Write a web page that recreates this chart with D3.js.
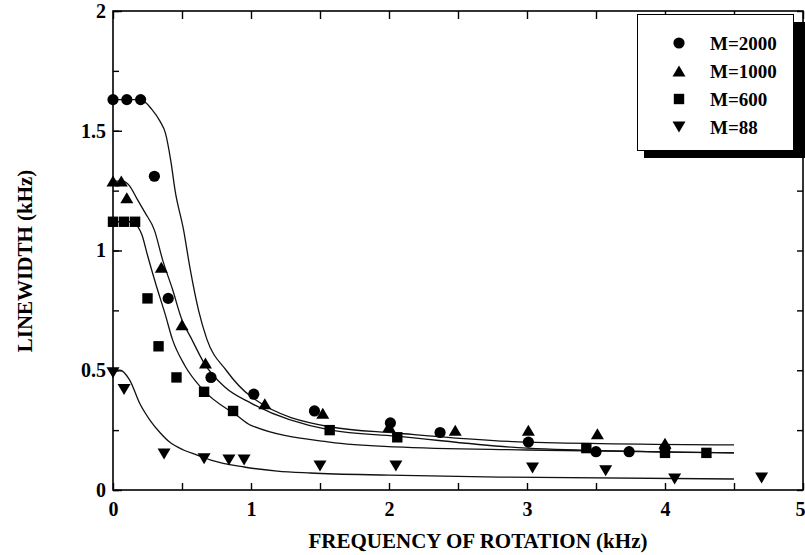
<!DOCTYPE html>
<html>
<head>
<meta charset="utf-8">
<script src="https://cdn.jsdelivr.net/npm/d3@7"></script>
<style>
    body { margin: 0; background: #fff; }
    svg text { font-family: "Liberation Serif", "Times New Roman", Times, "DejaVu Serif", serif; font-weight: bold; }
</style>
</head>
<body>
<svg id="chart" width="805" height="555"></svg>
<script>
/**
 * Linewidth vs frequency of rotation, four polymer masses.
 */
const seriesNames = ['M=2000', 'M=1000', 'M=600', 'M=88'];
const seriesShapes = ['circle', 'up', 'square', 'down'];

// Measured points [kHz, kHz]
const points2000 = [[0, 1.63], [0.1, 1.63], [0.2, 1.63], [0.3, 1.31], [0.4, 0.80], [0.71, 0.47], [1.02, 0.40],
    [1.46, 0.33], [2.01, 0.28], [2.37, 0.24], [3.01, 0.20], [3.50, 0.16], [3.74, 0.16], [4.0, 0.175]];
const points1000 = [[0, 1.29], [0.06, 1.29], [0.1, 1.22], [0.35, 0.93], [0.5, 0.69], [0.67, 0.53], [1.10, 0.36],
    [1.52, 0.32], [2.0, 0.265], [2.48, 0.25], [3.01, 0.25], [3.51, 0.235], [4.0, 0.195]];
const points600 = [[0, 1.12], [0.08, 1.12], [0.16, 1.12], [0.25, 0.80], [0.33, 0.60], [0.46, 0.47], [0.66, 0.41],
    [0.87, 0.33], [1.57, 0.25], [2.06, 0.22], [3.43, 0.175], [4.0, 0.155], [4.30, 0.155]];
const points88 = [[0, 0.49], [0.08, 0.42], [0.37, 0.15], [0.66, 0.13], [0.84, 0.125], [0.95, 0.125], [1.5, 0.10],
    [2.05, 0.10], [3.04, 0.092], [3.57, 0.08], [4.07, 0.046], [4.70, 0.05]];

// Fitted curves, sampled from the figure
const fit2000 = [[0, 1.63], [0.2, 1.63], [0.28, 1.59], [0.34, 1.54], [0.38, 1.49], [0.42, 1.37], [0.45, 1.25],
    [0.51, 1.09], [0.56, 0.92], [0.62, 0.75], [0.68, 0.63], [0.82, 0.50], [1.0, 0.39], [1.58, 0.263],
    [2.05, 0.238], [3.0, 0.20], [4.5, 0.188]];
const fit1000 = [[0, 1.29], [0.07, 1.29], [0.12, 1.27], [0.17, 1.22], [0.23, 1.16], [0.30, 1.085], [0.36, 0.96],
    [0.43, 0.84], [0.50, 0.71], [0.57, 0.63], [0.66, 0.53], [0.81, 0.43], [1.0, 0.363], [1.58, 0.25],
    [2.05, 0.225], [3.0, 0.175], [4.5, 0.155]];
const fit600 = [[0, 1.12], [0.145, 1.12], [0.18, 1.10], [0.21, 1.065], [0.25, 0.98], [0.31, 0.86], [0.38, 0.73],
    [0.43, 0.63], [0.52, 0.52], [0.65, 0.42], [0.90, 0.31], [1.0, 0.27], [1.57, 0.20], [2.04, 0.18],
    [3.0, 0.167], [4.5, 0.155]];
const fit88 = [[0, 0.50], [0.05, 0.50], [0.12, 0.46], [0.195, 0.36], [0.27, 0.29], [0.34, 0.24], [0.41, 0.20],
    [0.51, 0.167], [0.61, 0.146], [0.71, 0.125], [0.95, 0.096], [1.19, 0.079], [1.43, 0.071], [2.0, 0.062],
    [2.8, 0.054], [4.5, 0.046]];

const xTicks = d3.range(0, 5.01, 0.5);
const yMajorTicks = [0, 0.5, 1, 1.5, 2];
const yMinorTicks = d3.range(0, 2.01, 0.25);

const xTitle = 'FREQUENCY OF ROTATION (kHz)';
const yTitle = 'LINEWIDTH (kHz)';

/**
 * Layout.
 */
const plot = { left: 113, right: 803, top: 11, bottom: 490 };

const svg = d3.select('#chart');

const x = d3.scaleLinear().domain([0, 5]).range([plot.left, plot.right]),
    y = d3.scaleLinear().domain([0, 2]).range([plot.bottom, plot.top]);

// Marker outlines centred on 0,0
function shapePath(kind) {
    if (kind === 'circle') return d3.symbol(d3.symbolCircle, Math.PI * 5.6 * 5.6)();
    if (kind === 'up') return 'M0,-5.5L6.5,5.5L-6.5,5.5Z';
    if (kind === 'down') return 'M0,5.5L6.5,-5.5L-6.5,-5.5Z';
    return 'M-5.2,-5.2H5.2V5.2H-5.2Z';
}

function styleAxis(g) {
    g.attr('font-family', null).attr('font-size', null);
    g.select('.domain').remove();
    g.selectAll('.tick line').attr('stroke', '#000').attr('stroke-width', 1.4);
    g.selectAll('.tick text')
        .attr('fill', '#000')
        .style('font-size', '20px');
}

// Frame
svg.append('rect')
    .attr('x', plot.left).attr('y', plot.top)
    .attr('width', plot.right - plot.left).attr('height', plot.bottom - plot.top)
    .attr('fill', 'none').attr('stroke', '#000').attr('stroke-width', 1.6);

// Bottom axis: ticks every 0.5, labels on whole numbers
const bottomAxis = svg.append('g')
    .attr('transform', 'translate(0,' + plot.bottom + ')')
    .call(d3.axisBottom(x).tickValues(xTicks).tickSize(-7).tickSizeOuter(0).tickPadding(12)
        .tickFormat(d => Number.isInteger(d) ? d : ''))
    .call(styleAxis);

// the last label sits on the page edge, as in the original
bottomAxis.selectAll('.tick text').filter(d => d === 5)
    .attr('text-anchor', 'end').attr('x', 2);

svg.append('g')
    .attr('transform', 'translate(0,' + plot.top + ')')
    .call(d3.axisTop(x).tickValues(xTicks).tickSize(-8).tickSizeOuter(0).tickFormat(''))
    .call(styleAxis);

// Left axis: minor ticks, then major ticks with labels
svg.append('g')
    .attr('transform', 'translate(' + plot.left + ',0)')
    .call(d3.axisLeft(y).tickValues(yMinorTicks).tickSize(-6).tickSizeOuter(0).tickFormat(''))
    .call(styleAxis);

svg.append('g')
    .attr('transform', 'translate(' + plot.left + ',0)')
    .call(d3.axisLeft(y).tickValues(yMajorTicks).tickSize(-9).tickSizeOuter(0).tickPadding(7)
        .tickFormat(d3.format('')))
    .call(styleAxis);

svg.append('g')
    .attr('transform', 'translate(' + plot.right + ',0)')
    .call(d3.axisRight(y).tickValues(yMinorTicks).tickSize(-6).tickSizeOuter(0).tickFormat(''))
    .call(styleAxis);

// Fitted curves
const line = d3.line()
    .x(d => x(d[0]))
    .y(d => y(d[1]))
    .curve(d3.curveMonotoneX);

svg.append('g').attr('class', 'fits')
    .selectAll('path')
    .data([fit2000, fit1000, fit600, fit88])
    .enter().append('path')
    .attr('d', line)
    .attr('fill', 'none')
    .attr('stroke', '#111')
    .attr('stroke-width', 1.3);

// Measured points
const series = [points2000, points1000, points600, points88];
series.forEach((pts, i) => {
    svg.append('g').attr('class', 'points')
        .selectAll('path')
        .data(pts)
        .enter().append('path')
        .attr('transform', d => 'translate(' + x(d[0]) + ',' + y(d[1]) + ')')
        .attr('d', shapePath(seriesShapes[i]))
        .attr('fill', '#000');
});

// Axis titles
svg.append('text')
    .attr('x', 478).attr('y', 548)
    .attr('text-anchor', 'middle')
    .style('font-size', '21px')
    .text(xTitle);

svg.append('text')
    .attr('transform', 'translate(32,261) rotate(-90)')
    .attr('text-anchor', 'middle')
    .style('font-size', '21px')
    .text(yTitle);

// Legend with drop shadow
const legend = svg.append('g').attr('class', 'legend');
legend.append('rect')
    .attr('x', 644).attr('y', 22).attr('width', 161).attr('height', 136)
    .attr('fill', '#000');
legend.append('rect')
    .attr('x', 637.5).attr('y', 14.5).attr('width', 156).attr('height', 136)
    .attr('fill', '#fff').attr('stroke', '#000').attr('stroke-width', 1);

const rows = legend.selectAll('.row')
    .data(seriesNames)
    .enter().append('g')
    .attr('class', 'row')
    .attr('transform', (d, i) => 'translate(679,' + (43 + i * 28) + ')');

rows.append('path')
    .attr('d', (d, i) => shapePath(seriesShapes[i]))
    .attr('fill', '#000');

rows.append('text')
    .attr('x', 31).attr('y', 6.5)
    .style('font-size', '19px')
    .text(d => d);
</script>
</body>
</html>
